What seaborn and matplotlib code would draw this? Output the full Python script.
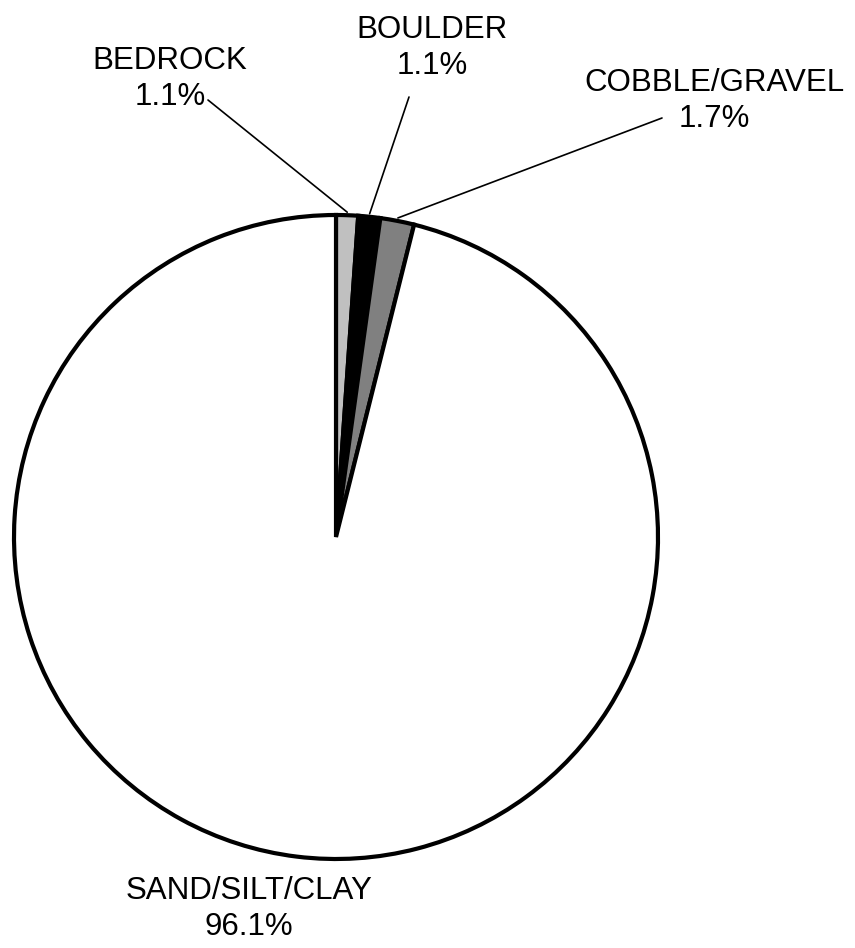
import numpy as np
import matplotlib
matplotlib.use("Agg")
import matplotlib.pyplot as plt
import seaborn as sns

categories = ["BEDROCK", "BOULDER", "COBBLE/GRAVEL", "SAND/SILT/CLAY"]
percent = [1.1, 1.1, 1.7, 96.1]
colors = ["#c0c0c0", "#000000", "#808080", "#ffffff"]

sns.set_theme(style="white")
plt.rcParams["font.family"] = ["Liberation Sans", "DejaVu Sans"]

W, H = 855, 948
fig = plt.figure(figsize=(W / 100, H / 100), dpi=100)
ax = fig.add_axes([0, 0, 1, 1])

cx, cy, r = 336, H - 537, 322
wedges, _ = ax.pie(percent, colors=colors, startangle=90, counterclock=False,
                   center=(cx, cy), radius=r, frame=True,
                   wedgeprops=dict(edgecolor="black", linewidth=3.0,
                                   joinstyle="miter"))
ax.set_xlim(0, W)
ax.set_ylim(0, H)
ax.set_aspect("equal")
ax.axis("off")

# label block centres and leader-line start points (pixel space, y from top)
label_pos = [(170, 79), (432, 48), (714, 101), (249, 909)]
leader_start = [(208, 100), (409, 97), (662, 118), None]

for w, name, p, (lx, ly), ls in zip(wedges, categories, percent, label_pos, leader_start):
    ax.text(lx, H - ly, f"{name}\n{p:.1f}%", ha="center", va="center",
            fontsize=22.5, linespacing=1.27, color="black")
    if ls is not None:
        mid = np.deg2rad((w.theta1 + w.theta2) / 2)
        ex = cx + (r + 3) * np.cos(mid)
        ey = cy + (r + 3) * np.sin(mid)
        ax.plot([ls[0], ex], [H - ls[1], ey], color="black", lw=1.2)

fig.savefig("out.png", dpi=100, facecolor="white")
